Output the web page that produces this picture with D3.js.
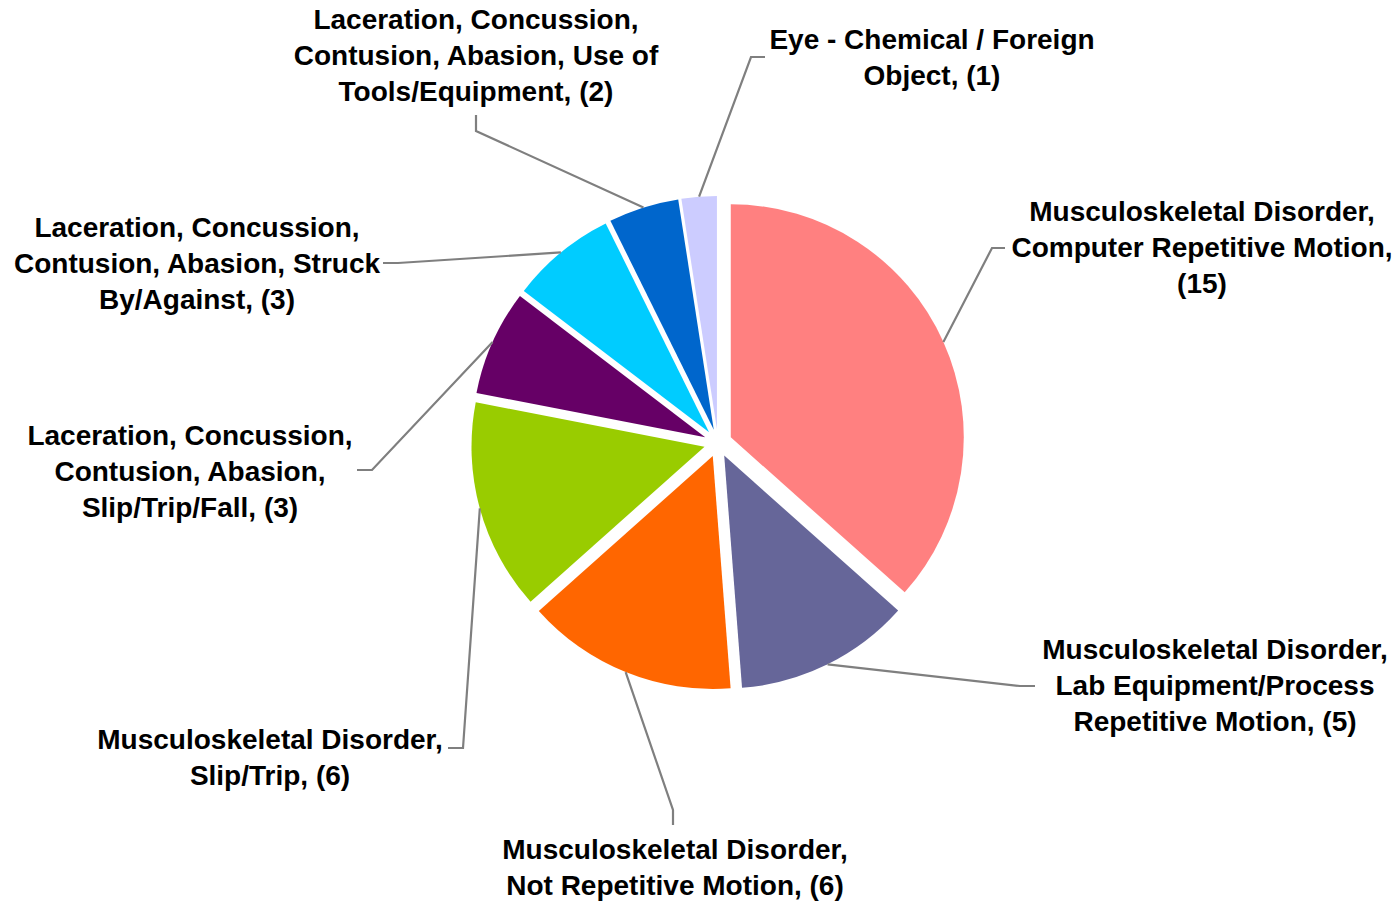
<!DOCTYPE html>
<head>
    <meta charset="utf-8">
    <script src="https://d3js.org/d3.v7.min.js"></script>
    <style>
        body { margin: 0; background: #fff; }
        text { font-family: "Liberation Sans", Arial, sans-serif; font-weight: bold; font-size: 28px; fill: #000; }
    </style>
</head>
<body>
    <svg></svg>
    <script>
        // chart data (clockwise from 12 o'clock)
        var categories = [
            ["Musculoskeletal Disorder,", "Computer Repetitive Motion,", "(15)"],
            ["Musculoskeletal Disorder,", "Lab Equipment/Process", "Repetitive Motion, (5)"],
            ["Musculoskeletal Disorder,", "Not Repetitive Motion, (6)"],
            ["Musculoskeletal Disorder,", "Slip/Trip, (6)"],
            ["Laceration, Concussion,", "Contusion, Abasion,", "Slip/Trip/Fall, (3)"],
            ["Laceration, Concussion,", "Contusion, Abasion, Struck", "By/Against, (3)"],
            ["Laceration, Concussion,", "Contusion, Abasion, Use of", "Tools/Equipment, (2)"],
            ["Eye - Chemical / Foreign", "Object, (1)"]
        ];
        var values = [15, 5, 6, 6, 3, 3, 2, 1];
        var colors = ["#FF8080", "#666699", "#FF6600", "#99CC00", "#660066", "#00CCFF", "#0066CC", "#CCCCFF"];

        // label layout: text centre x, first baseline y, leader elbow and leader end
        var labelX = [1202, 1215, 675, 270, 190, 197, 476, 932];
        var labelY = [221, 659, 859, 749, 445, 237, 29, 49];
        var elbows = [[992, 248], [1020, 686], [673, 810], [463, 748], [372, 470], [398, 263], [476, 131], [751, 57]];
        var ends = [[1005, 248], [1035, 686], [673, 825], [448, 748], [357, 470], [383, 263], [476, 115], [765, 57]];

        var width = 1400, height = 901;
        var cx = 718, cy = 443, radius = 233, explode = 14, lineHeight = 36;

        var svg = d3.select("svg")
            .attr("width", width)
            .attr("height", height);

        var pie = d3.pie().sort(null).value(function (d) { return d; });
        var arcs = pie(values);

        var arc = d3.arc().innerRadius(0).outerRadius(radius);

        // direction of a slice's middle (0 = up, clockwise)
        function mid(d) { return (d.startAngle + d.endAngle) / 2; }

        var g = svg.append("g")
            .attr("transform", "translate(" + cx + "," + cy + ")");

        // slices, each pushed out along its bisector
        g.selectAll("path.slice")
            .data(arcs)
            .enter().append("path")
            .attr("class", "slice")
            .attr("d", arc)
            .attr("fill", function (d, i) { return colors[i]; })
            .attr("transform", function (d) {
                var a = mid(d);
                return "translate(" + (explode * Math.sin(a)) + "," + (-explode * Math.cos(a)) + ")";
            });

        // leader lines from the slice's outer edge to its label
        svg.selectAll("polyline.leader")
            .data(arcs)
            .enter().append("polyline")
            .attr("class", "leader")
            .attr("fill", "none")
            .attr("stroke", "#7f7f7f")
            .attr("stroke-width", 2.2)
            .attr("points", function (d, i) {
                var a = mid(d), r = radius + explode;
                var sx = cx + r * Math.sin(a), sy = cy - r * Math.cos(a);
                return [[sx, sy], elbows[i], ends[i]].map(function (p) { return p.join(","); }).join(" ");
            });

        // labels
        var labels = svg.selectAll("text.label")
            .data(categories)
            .enter().append("text")
            .attr("class", "label")
            .attr("text-anchor", "middle")
            .attr("x", function (d, i) { return labelX[i]; })
            .attr("y", function (d, i) { return labelY[i]; });

        labels.selectAll("tspan")
            .data(function (d, i) { return d.map(function (t) { return { t: t, i: i }; }); })
            .enter().append("tspan")
            .attr("x", function (d) { return labelX[d.i]; })
            .attr("dy", function (d, j) { return j === 0 ? 0 : lineHeight; })
            .text(function (d) { return d.t; });
    </script>
</body>
